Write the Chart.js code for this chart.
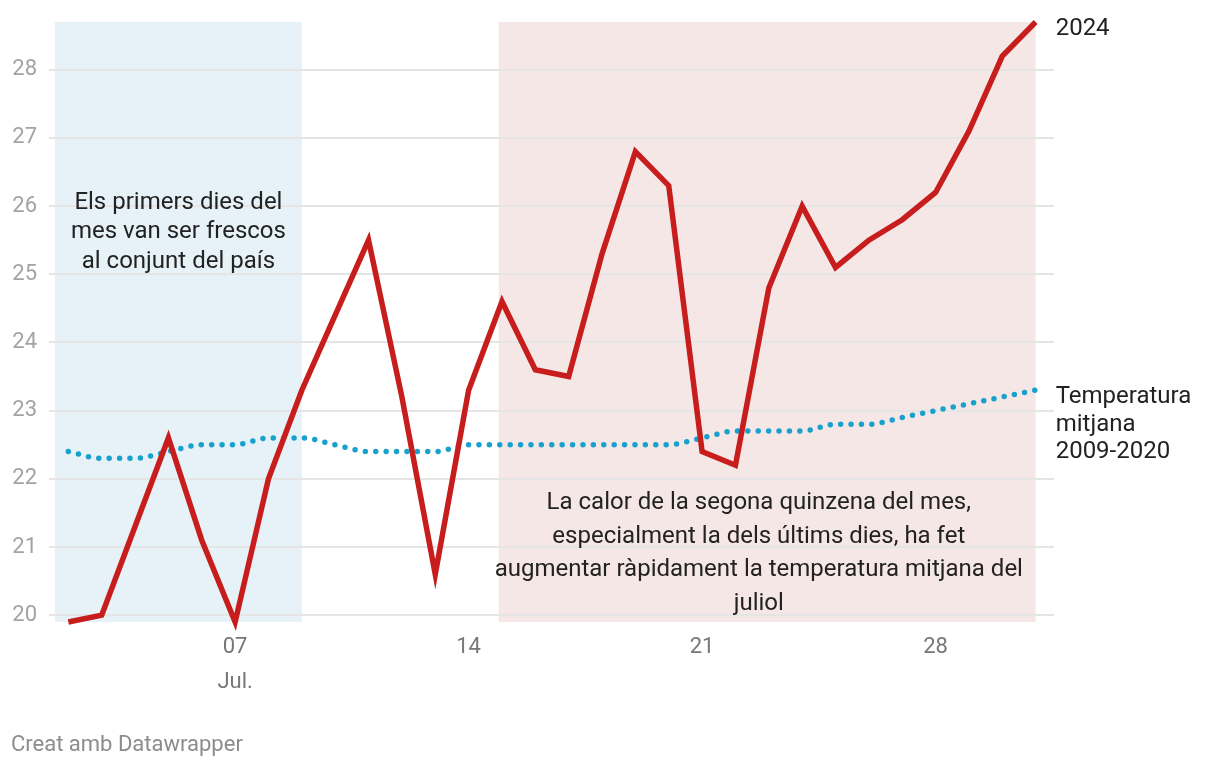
<!DOCTYPE html>
<html>
<head>
<meta charset="utf-8">
<script src="https://cdn.jsdelivr.net/npm/chart.js@4"></script>
<style>
  html, body { margin: 0; padding: 0; background: #fff; }
  #wrap { position: relative; width: 1220px; height: 768px; }
  #footer { position: absolute; left: 11px; top: 731px; font: 22px Roboto, sans-serif; color: #8c8c8c; }
</style>
</head>
<body>
<div id="wrap">
  <canvas id="chart" width="1220" height="768"></canvas>
  <div id="footer">Creat amb Datawrapper</div>
</div>
<script>
// July days shown
const days = [2, 3, 4, 5, 6, 7, 8, 9, 10, 11, 12, 13, 14, 15, 16, 17, 18, 19, 20, 21, 22, 23, 24, 25, 26, 27, 28, 29, 30, 31];
// daily mean temperature 2024
const temp2024 = [19.9, 20.0, 21.3, 22.6, 21.1, 19.9, 22.0, 23.3, 24.4, 25.5, 23.2, 20.6, 23.3, 24.6, 23.6, 23.5, 25.3, 26.8, 26.3, 22.4, 22.2, 24.8, 26.0, 25.1, 25.5, 25.8, 26.2, 27.1, 28.2, 28.7];
// average 2009-2020
const tempMitjana = [22.4, 22.3, 22.3, 22.4, 22.5, 22.5, 22.6, 22.6, 22.5, 22.4, 22.4, 22.4, 22.5, 22.5, 22.5, 22.5, 22.5, 22.5, 22.5, 22.6, 22.7, 22.7, 22.7, 22.8, 22.8, 22.9, 23.0, 23.1, 23.2, 23.3];
const xTicks = [7, 14, 21, 28];
const yTicks = [20, 21, 22, 23, 24, 25, 26, 27, 28];
// highlighted ranges (days)
const freshRange = [1.6, 9];
const hotRange = [14.9, 31];
const freshNote = ['Els primers dies del', 'mes van ser frescos', 'al conjunt del país'];
const hotNote = ['La calor de la segona quinzena del mes,', 'especialment la dels últims dies, ha fet', 'augmentar ràpidament la temperatura mitjana del', 'juliol'];
const label2024 = ['2024'];
const labelMitjana = ['Temperatura', 'mitjana', '2009-2020'];

const RED = '#c71e1d';
const BLUE = '#18a1cd';
const FONT = 'Roboto, sans-serif';

function drawLines(ctx, lines, x, y, lh, align) {
  ctx.textAlign = align;
  ctx.textBaseline = 'middle';
  lines.forEach((l, i) => ctx.fillText(l, x, y + i * lh));
}

const bands = {
  id: 'bands',
  beforeDraw(chart) {
    const { ctx, chartArea, scales: { x } } = chart;
    ctx.save();
    ctx.fillStyle = '#e6f2f8';
    ctx.fillRect(x.getPixelForValue(freshRange[0]), chartArea.top,
      x.getPixelForValue(freshRange[1]) - x.getPixelForValue(freshRange[0]), chartArea.bottom - chartArea.top);
    ctx.fillStyle = '#f6e7e7';
    ctx.fillRect(x.getPixelForValue(hotRange[0]), chartArea.top,
      x.getPixelForValue(hotRange[1]) - x.getPixelForValue(hotRange[0]), chartArea.bottom - chartArea.top);
    ctx.restore();
  },
  afterDraw(chart) {
    const { ctx, scales: { x, y } } = chart;
    ctx.save();
    ctx.fillStyle = '#222';
    ctx.font = '24px ' + FONT;
    drawLines(ctx, freshNote, x.getPixelForValue((freshRange[0] + freshRange[1]) / 2), y.getPixelForValue(26.09) + 3, 29.5, 'center');
    drawLines(ctx, hotNote, x.getPixelForValue(22.7), y.getPixelForValue(21.67) + 2, 33.5, 'center');
    const lx = x.getPixelForValue(days[days.length - 1]) + 20;
    drawLines(ctx, label2024, lx, y.getPixelForValue(temp2024[temp2024.length - 1]) + 7, 27.5, 'left');
    drawLines(ctx, labelMitjana, lx, y.getPixelForValue(tempMitjana[tempMitjana.length - 1]) + 7, 27.5, 'left');
    ctx.restore();
  }
};

new Chart(document.getElementById('chart'), {
  type: 'line',
  data: {
    datasets: [
      {
        label: '2024',
        data: days.map((d, i) => ({ x: d, y: temp2024[i] })),
        borderColor: RED,
        borderWidth: 5.5,
        pointRadius: 0,
        tension: 0,
        clip: false
      },
      {
        label: 'Temperatura mitjana 2009-2020',
        data: days.map((d, i) => ({ x: d, y: tempMitjana[i] })),
        borderColor: BLUE,
        borderWidth: 5.5,
        borderDash: [0, 10.4],
        borderCapStyle: 'round',
        pointRadius: 0,
        cubicInterpolationMode: 'monotone',
        clip: false
      }
    ]
  },
  options: {
    responsive: false,
    animation: false,
    devicePixelRatio: 1,
    layout: { padding: { left: 0, right: 166, top: 22, bottom: 66 } },
    plugins: { legend: { display: false }, tooltip: { enabled: false } },
    scales: {
      x: {
        type: 'linear',
        min: 1.42,
        max: 31.55,
        grid: { display: false },
        border: { display: false },
        afterBuildTicks: s => { s.ticks = xTicks.map(v => ({ value: v })); },
        afterFit: s => { s.height = 80; s.paddingLeft = 0; s.paddingRight = 0; },
        ticks: {
          color: '#777',
          padding: 0,
          font: { family: FONT, size: 22, lineHeight: 1.6 },
          maxRotation: 0,
          autoSkip: false,
          callback: v => v === 7 ? ['07', 'Jul.'] : String(v).padStart(2, '0')
        }
      },
      y: {
        min: 19.9,
        max: 28.7,
        grid: { color: '#e5e5e5', lineWidth: 2, drawTicks: false },
        border: { display: false },
        afterBuildTicks: s => { s.ticks = yTicks.map(v => ({ value: v })); },
        afterFit: s => { s.width = 49; s.paddingTop = 0; s.paddingBottom = 0; },
        ticks: { color: '#a3a3a3', padding: 12, font: { family: FONT, size: 22 } }
      }
    }
  },
  plugins: [bands]
});
</script>
</body>
</html>
